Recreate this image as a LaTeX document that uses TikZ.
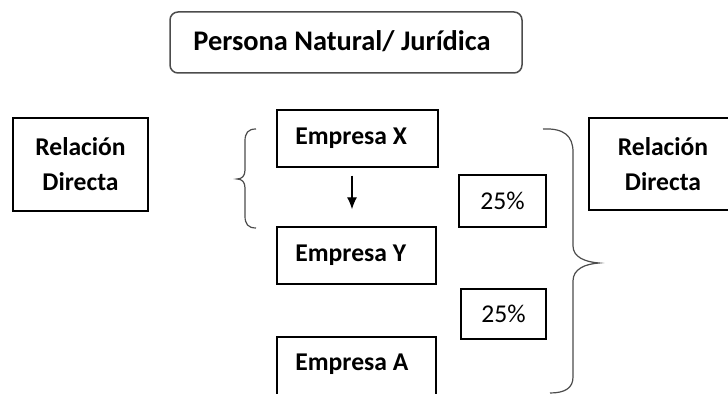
\documentclass[tikz,border=0pt]{standalone}
\usepackage{fontspec}
\setmainfont{Carlito}
\usetikzlibrary{arrows.meta}
\begin{document}
\begin{tikzpicture}[x=0.5pt,y=-0.5pt,
  box/.style={draw=black,line width=0.7pt,inner sep=0pt,font=\fontsize{12.8}{17.5}\selectfont\bfseries},
  ebox/.style={draw=black,line width=0.7pt,inner sep=0pt,minimum height=28.5pt},
  etext/.style={inner sep=0pt,anchor=base west,font=\fontsize{12.8}{15}\selectfont\bfseries},
  pbox/.style={draw=black,line width=0.7pt,inner sep=0pt,font=\fontsize{12.8}{15}\selectfont},
  topbox/.style={draw=black!70,line width=0.75pt,rounded corners=4pt,inner sep=0pt},
  toptext/.style={inner sep=0pt,font=\fontsize{14.2}{16}\selectfont\bfseries,text height=9.2pt,text depth=0pt},
  brace/.style={draw=black!70,line width=0.6pt},
  arr/.style={-{Latex[length=6pt,width=5pt]},line width=0.6pt}]
\useasboundingbox (0,0) rectangle (728,394);
\clip (0,0) rectangle (728,394);
\node[topbox,minimum width=176pt,minimum height=30.5pt] (top) at (346,42.5) {};
\node[toptext] (toplabel) at (342,41) {Persona Natural/ Jurídica};
\node[box,align=center,minimum width=67.5pt,minimum height=46.5pt] (relL) at (80.5,164.5) {Relación\\Directa};
\node[box,align=center,minimum width=74pt,minimum height=46pt] (relR) at (663,164) {Relación\\Directa};
\node[ebox,minimum width=80.5pt] (ex) at (357.5,138.5) {};
\node[ebox,minimum width=79.5pt] (ey) at (356.5,255.5) {};
\node[ebox,minimum width=79.5pt,minimum height=31.5pt] (ea) at (356.5,368.5) {};
\node[etext] (extext) at (295,145) {Empresa X};
\node[etext] (eytext) at (295,262) {Empresa Y};
\node[etext] (eatext) at (295,371) {Empresa A};
\node[pbox,minimum width=43.5pt,minimum height=26pt] (p1) at (502.5,201) {25\%};
\node[pbox,minimum width=42.5pt,minimum height=25pt] (p2) at (503.5,314) {25\%};
\draw[arr,shorten <=4pt,shorten >=8.5pt] (ex.south -| 352,0) -- (ey.north -| 352,0);
% left brace
\coordinate (lbt) at (256,129);
\coordinate (lbb) at (256,228);
\draw[brace] (lbt) .. controls (248,129) and (245,133) .. (245,141) -- (245,170)
  .. controls (245,176) and (242,179) .. (237,179)
  .. controls (242,179) and (245,182) .. (245,188) -- (245,216)
  .. controls (245,224) and (248,228) .. (lbb);
% right brace
\coordinate (rbt) at (543,129);
\coordinate (rbb) at (550,393);
\draw[brace] (rbt) .. controls (564,128) and (573,136) .. (573,152) -- (573,246)
  .. controls (573,257) and (585,262) .. (599,263)
  .. controls (585,264) and (573,269) .. (573,281) -- (573,377)
  .. controls (573,388) and (565,393) .. (rbb);
\end{tikzpicture}
\end{document}
